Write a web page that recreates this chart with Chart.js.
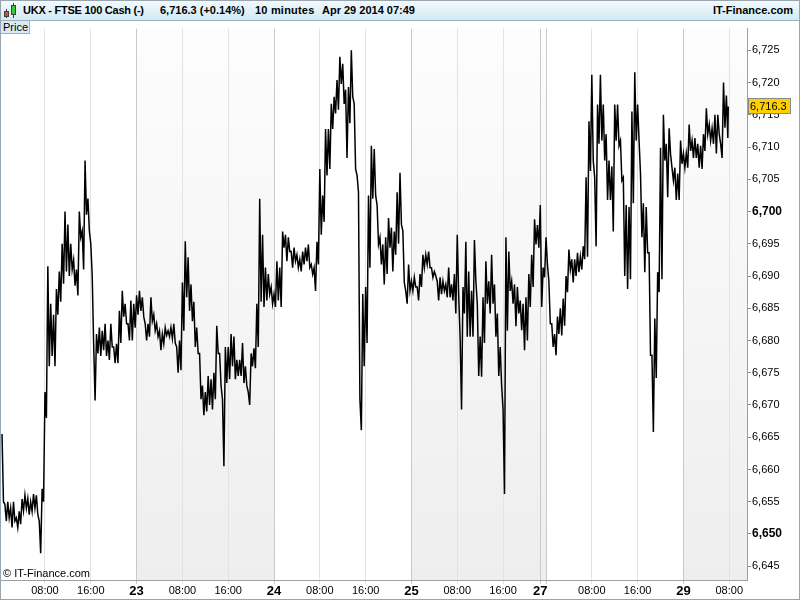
<!DOCTYPE html>
<html>
<head>
<meta charset="utf-8">
<script src="https://cdn.jsdelivr.net/npm/chart.js@4.4.0/dist/chart.umd.min.js"></script>
<style>
  body { margin: 0; background: #fff; }
  #frame { position: relative; width: 800px; height: 600px; box-sizing: border-box; border: 1px solid #98a4ae; overflow: hidden; font-family: "Liberation Sans", Arial, sans-serif; background: #fff; }
  #header { position: absolute; left: 0; top: 0; width: 798px; height: 19px; border-bottom: 1px solid #9db0bc; background: linear-gradient(#f2fafd, #d3eaf3); }
  #header span { position: absolute; top: 3px; font-size: 11px; font-weight: bold; color: #000; white-space: nowrap; }
  .wick { position: absolute; width: 1px; background: #404040; }
  .body { position: absolute; box-sizing: border-box; border: 1px solid #404040; }
  #price { position: absolute; left: 0; top: 20px; width: 29px; height: 13px; box-sizing: border-box; background: #d8ebf4; border-right: 1px solid #9db0bc; border-bottom: 1px solid #9db0bc; font-size: 11px; line-height: 12px; padding-left: 2px; z-index: 2; }
  #c { position: absolute; left: 0; top: 20px; }
</style>
</head>
<body>
<div id="frame">
  <div id="header">
    <div class="wick" style="left:5px;top:8px;height:9px"></div>
    <div class="body" style="left:3px;top:10px;width:5px;height:6px;background:#e04848"></div>
    <div class="wick" style="left:12px;top:2px;height:15px"></div>
    <div class="body" style="left:10px;top:4px;width:5px;height:10px;background:#3cc83c"></div>
    <span style="left:22px;letter-spacing:-0.25px">UKX - FTSE 100 Cash (-)</span>
    <span style="left:159px">6,716.3 (+0.14%)</span>
    <span style="left:254px;letter-spacing:0.2px">10 minutes</span>
    <span style="left:321px">Apr 29 2014 07:49</span>
    <span style="right:6px">IT-Finance.com</span>
  </div>
  <div id="price">Price</div>
  <canvas id="c" width="798" height="578"></canvas>
</div>
<script>
// time axis = trading hours since Apr 22 00:00 (weekend compressed)
// each day: high / low of every 30 minute slot
const day22Start = 0.5;
const day22High = [6665.5, 6654.6, 6655, 6654, 6655, 6652.5, 6653.5, 6655.4, 6656, 6655.5, 6655, 6656.2, 6656, 6652, 6657,
  6672, 6691.5, 6685.7, 6684, 6688, 6690.7, 6695, 6700, 6698, 6695, 6692.5, 6691, 6700, 6697, 6707.9, 6702,
  6695, 6679.5, 6681, 6682, 6681.5, 6682.6, 6680, 6682.6, 6679, 6679.5, 6684.6, 6687.7, 6685.7, 6682.6, 6686.2, 6685.7];
const day22Low = [6655, 6652, 6652.5, 6651, 6652, 6651, 6651.5, 6653.6, 6654, 6653, 6653.5, 6654, 6653, 6647, 6655,
  6668, 6676, 6677.6, 6676, 6684, 6686, 6688.8, 6690.7, 6690, 6691, 6688.5, 6687, 6696, 6691, 6699.5, 6697,
  6690, 6670.7, 6678, 6677.6, 6678.5, 6677.6, 6677, 6679, 6676.5, 6676.5, 6679.6, 6683.7, 6682.6, 6680, 6680, 6682];

const day23Start = 24;
const day23High = [6687, 6687.7, 6686.7, 6682.6, 6682.6, 6686.7, 6684, 6682.6, 6681.5, 6681,
  6682, 6681.5, 6682, 6682.6, 6679, 6680, 6689, 6695.4, 6692.9, 6688.7,
  6686, 6682, 6678, 6673, 6672, 6674.5, 6674, 6675, 6682.3, 6678,
  6670.9, 6679, 6679, 6681, 6680.6, 6677, 6677, 6679.6, 6676, 6672,
  6678, 6678.8, 6685.7, 6702, 6696.4, 6691.3, 6690.3, 6688.3];
const day23Low = [6684, 6684.6, 6683.7, 6680, 6680.6, 6683, 6681.5, 6680.6, 6678.5, 6679.5,
  6680.8, 6680.6, 6680.3, 6679.6, 6675, 6675.4, 6681.5, 6686.7, 6684.6, 6683,
  6679, 6678, 6670.9, 6668.4, 6669, 6670, 6669.3, 6670.9, 6678, 6673,
  6660.5, 6673.4, 6674, 6676, 6674, 6674.5, 6674.5, 6673.4, 6673, 6670,
  6676, 6675.7, 6679, 6686, 6685.2, 6686.2, 6687.2, 6685.7];

const day24Start = 48;
const day24High = [6687.2, 6692.3, 6691.3, 6696.9, 6696.4, 6696, 6693.8, 6694.4, 6693.3, 6692.6,
  6693.8, 6694.4, 6694.9, 6691.8, 6691.3, 6695.3, 6706.6, 6702.5, 6712.8, 6712.8,
  6716.7, 6717.8, 6720.4, 6724, 6722.9, 6718.9, 6719.3, 6725, 6716.7, 6705.6,
  6670.9, 6687.2, 6688.3, 6702.5, 6710.2, 6709.7, 6701, 6696, 6694.9, 6696,
  6699, 6697.5, 6696.9, 6703, 6706, 6697, 6687.7, 6691.8];
const day24Low = [6685.2, 6686.2, 6685.2, 6694.4, 6692.3, 6693.8, 6691.3, 6692.3, 6691.3, 6690.7,
  6691.8, 6692.3, 6691.3, 6690.3, 6687.7, 6691.8, 6696.4, 6698.4, 6705.6, 6706.6,
  6712.8, 6715.2, 6715.8, 6719.8, 6716.7, 6708.3, 6713.7, 6717.8, 6706.6, 6703,
  6666.1, 6676, 6679.6, 6691.3, 6702, 6702.5, 6694.9, 6691.8, 6688.7, 6690.3,
  6694.4, 6690.7, 6693.3, 6695, 6698, 6689, 6685.7, 6687.7];

const day25Start = 72;
const day25High = [6689.2, 6689.8, 6688.3, 6690.3, 6693.3, 6693.3, 6693.8, 6691.3, 6690.7, 6689.2,
  6689.8, 6689.2, 6688.7, 6691.3, 6688.7, 6690.3, 6696.4, 6680.5, 6688.3, 6695.3,
  6690.7, 6687.7, 6695.6, 6685.7, 6680.6, 6686.7, 6692.3, 6689.2, 6693.3, 6688.7,
  6684.2, 6679, 6669.3, 6696, 6693.8, 6689.2, 6688.7, 6688.3, 6686.2, 6685.7,
  6686.7, 6690.3, 6693.3, 6698.8, 6697.9];
const day25Low = [6687.7, 6688.3, 6686.2, 6688.3, 6691.3, 6691.8, 6691.3, 6689.8, 6690, 6686.2,
  6687.2, 6687.7, 6686.7, 6686.7, 6686.2, 6684.2, 6687, 6669.3, 6684.2, 6680.6,
  6680.6, 6680.6, 6689.2, 6674.5, 6674.4, 6679.6, 6685.7, 6684.2, 6685.7, 6680.6,
  6674.5, 6673, 6656.2, 6681.5, 6687.7, 6685.7, 6682.2, 6684.2, 6681.6, 6678.5,
  6680, 6685.2, 6688.3, 6694.9, 6694.4];

// Sunday 27 evening session running into Monday 28
const day28Start = 94.5;
const day28High = [6701, 6691.3, 6696, 6689.2, 6682.6, 6681, 6683.7, 6685, 6686.5, 6690,
  6694.1, 6692.6, 6692.6, 6693.6, 6693, 6694.6, 6705.3, 6714, 6721.2, 6705.3,
  6716.6, 6721.2, 6716.6, 6712, 6707.9, 6707, 6716.6, 6716.6, 6711, 6705.3,
  6701, 6700.7, 6715.5, 6721.6, 6716.6, 6705.9, 6701.3, 6700.7, 6693.6, 6677.7,
  6683.4, 6690.6, 6709.9, 6715, 6710.5, 6712.9, 6706.8, 6706.8, 6705.9, 6711];
const day28Low = [6685.2, 6689.8, 6691.8, 6682.6, 6679, 6677.7, 6681, 6680.8, 6682.3, 6687.5,
  6691, 6689, 6690, 6690.6, 6691, 6692.6, 6693, 6706.3, 6707.9, 6694.6,
  6710.5, 6711, 6707.9, 6701.8, 6701.8, 6696.9, 6711, 6710.2, 6704.8, 6690,
  6688, 6689.5, 6701.3, 6711, 6711, 6696, 6690.6, 6693.6, 6677.7, 6665.8,
  6674.2, 6687.5, 6689.5, 6707.9, 6702.2, 6708.9, 6704.8, 6701.8, 6701.8, 6707.4];

const day29Start = 119.5;
const day29High = [6709, 6709, 6713.5, 6711, 6711.4, 6710.5, 6710.2, 6712, 6716, 6713.5, 6712.9, 6715, 6715, 6710.5, 6720, 6718];
const day29Low = [6706.8, 6706.8, 6709.4, 6708.3, 6708.3, 6706.8, 6706.6, 6709.4, 6712, 6711, 6710.5, 6709, 6712, 6708.3, 6713, 6711.4];

const lastTime = 127.33;
const lastPrice = 6716.3;

const xTickPos = [8, 16, 24, 32, 40, 48, 56, 64, 72, 80, 88, 94.5, 95.5, 103.5, 111.5, 119.5, 127.5];
const xTickLabels = ['08:00', '16:00', '23', '08:00', '16:00', '24', '08:00', '16:00', '25', '08:00', '16:00', '27', '', '08:00', '16:00', '29', '08:00'];
const yTicks = [6645, 6650, 6655, 6660, 6665, 6670, 6675, 6680, 6685, 6690, 6695, 6700, 6705, 6710, 6715, 6720, 6725];
const shadedDays = [[24, 48], [72, 95.5], [119.5, 131]];

function toPoints(start, highs, lows) {
  const pts = [];
  highs.forEach((h, i) => {
    const t = start + i * 0.5;
    pts.push({ x: t, y: h }, { x: t + 0.25, y: lows[i] });
  });
  return pts;
}

const points = [].concat(
  toPoints(day22Start, day22High, day22Low),
  toPoints(day23Start, day23High, day23Low),
  toPoints(day24Start, day24High, day24Low),
  toPoints(day25Start, day25High, day25Low),
  toPoints(day28Start, day28High, day28Low),
  toPoints(day29Start, day29High, day29Low),
  [{ x: lastTime, y: lastPrice }]
);

const FONT = '"Liberation Sans", Arial, sans-serif';
const isDayLabel = i => xTickLabels[i] !== undefined && xTickLabels[i] !== '' && xTickLabels[i].indexOf(':') < 0;
const isDayLine = i => xTickLabels[i] !== undefined && xTickLabels[i].indexOf(':') < 0;

const decor = {
  id: 'decor',
  beforeDraw(chart) {
    const { ctx, chartArea: a } = chart;
    const x = chart.scales.x;
    ctx.save();
    ctx.fillStyle = '#fff';
    ctx.fillRect(0, 0, chart.width, chart.height);
    const g = ctx.createLinearGradient(0, a.top, 0, a.bottom);
    g.addColorStop(0, '#fdfdfd');
    g.addColorStop(1, '#eeeeee');
    ctx.fillStyle = g;
    shadedDays.forEach(([s, e]) => {
      const x0 = Math.max(a.left, x.getPixelForValue(s));
      const x1 = Math.min(a.right, x.getPixelForValue(e));
      ctx.fillRect(x0, a.top, x1 - x0, a.bottom - a.top);
    });
    ctx.restore();
  },
  afterDraw(chart) {
    const { ctx, chartArea: a } = chart;
    const y = Math.round(chart.scales.y.getPixelForValue(lastPrice));
    ctx.save();
    ctx.fillStyle = '#ffd000';
    ctx.fillRect(a.right + 1.5, y - 7.5, 42, 15);
    ctx.strokeStyle = '#8a8a8a';
    ctx.lineWidth = 1;
    ctx.strokeRect(a.right + 1.5, y - 7.5, 42, 15);
    ctx.fillStyle = '#000';
    ctx.font = '11px ' + FONT;
    ctx.textBaseline = 'middle';
    ctx.fillText('6,716.3', a.right + 3, y + 0.5);
    ctx.fillText('\u00a9 IT-Finance.com', a.left + 2, a.bottom - 6);
    ctx.restore();
  }
};

new Chart(document.getElementById('c'), {
  type: 'line',
  data: {
    datasets: [{
      data: points,
      borderColor: '#000',
      borderWidth: 1.5,
      pointRadius: 0,
      tension: 0,
      fill: false
    }]
  },
  options: {
    responsive: false,
    animation: false,
    events: [],
    layout: { padding: 0, autoPadding: false },
    plugins: { legend: { display: false }, tooltip: { enabled: false } },
    scales: {
      x: {
        type: 'linear',
        min: 0.32,
        max: 130.6,
        afterFit: s => { s.height = 19; },
        afterBuildTicks: s => { s.ticks = xTickPos.map(v => ({ value: v })); },
        border: { display: true, color: '#9aa0a6' },
        grid: {
          drawOnChartArea: true,
          drawTicks: true,
          tickLength: 4,
          color: ctx => isDayLine(ctx.index) ? '#c9c9c9' : '#e3e3e3'
        },
        ticks: {
          autoSkip: false,
          maxRotation: 0,
          padding: 0,
          color: '#000',
          font: ctx => isDayLabel(ctx.index) ? { family: FONT, size: 13, weight: 'bold' } : { family: FONT, size: 11 },
          callback: (v, i) => xTickLabels[i]
        }
      },
      y: {
        position: 'right',
        min: 6642.86,
        max: 6728.37,
        afterFit: s => { s.width = 52; },
        afterBuildTicks: s => { s.ticks = yTicks.map(v => ({ value: v })); },
        border: { display: true, color: '#9aa0a6' },
        grid: { drawOnChartArea: false, drawTicks: true, tickLength: 4, color: '#8c8c8c' },
        ticks: {
          padding: 1,
          color: '#000',
          font: ctx => ctx.tick && ctx.tick.value % 50 === 0 ? { family: FONT, size: 12, weight: 'bold' } : { family: FONT, size: 11 },
          callback: v => v.toLocaleString('en-US')
        }
      }
    }
  },
  plugins: [decor]
});
</script>
</body>
</html>
